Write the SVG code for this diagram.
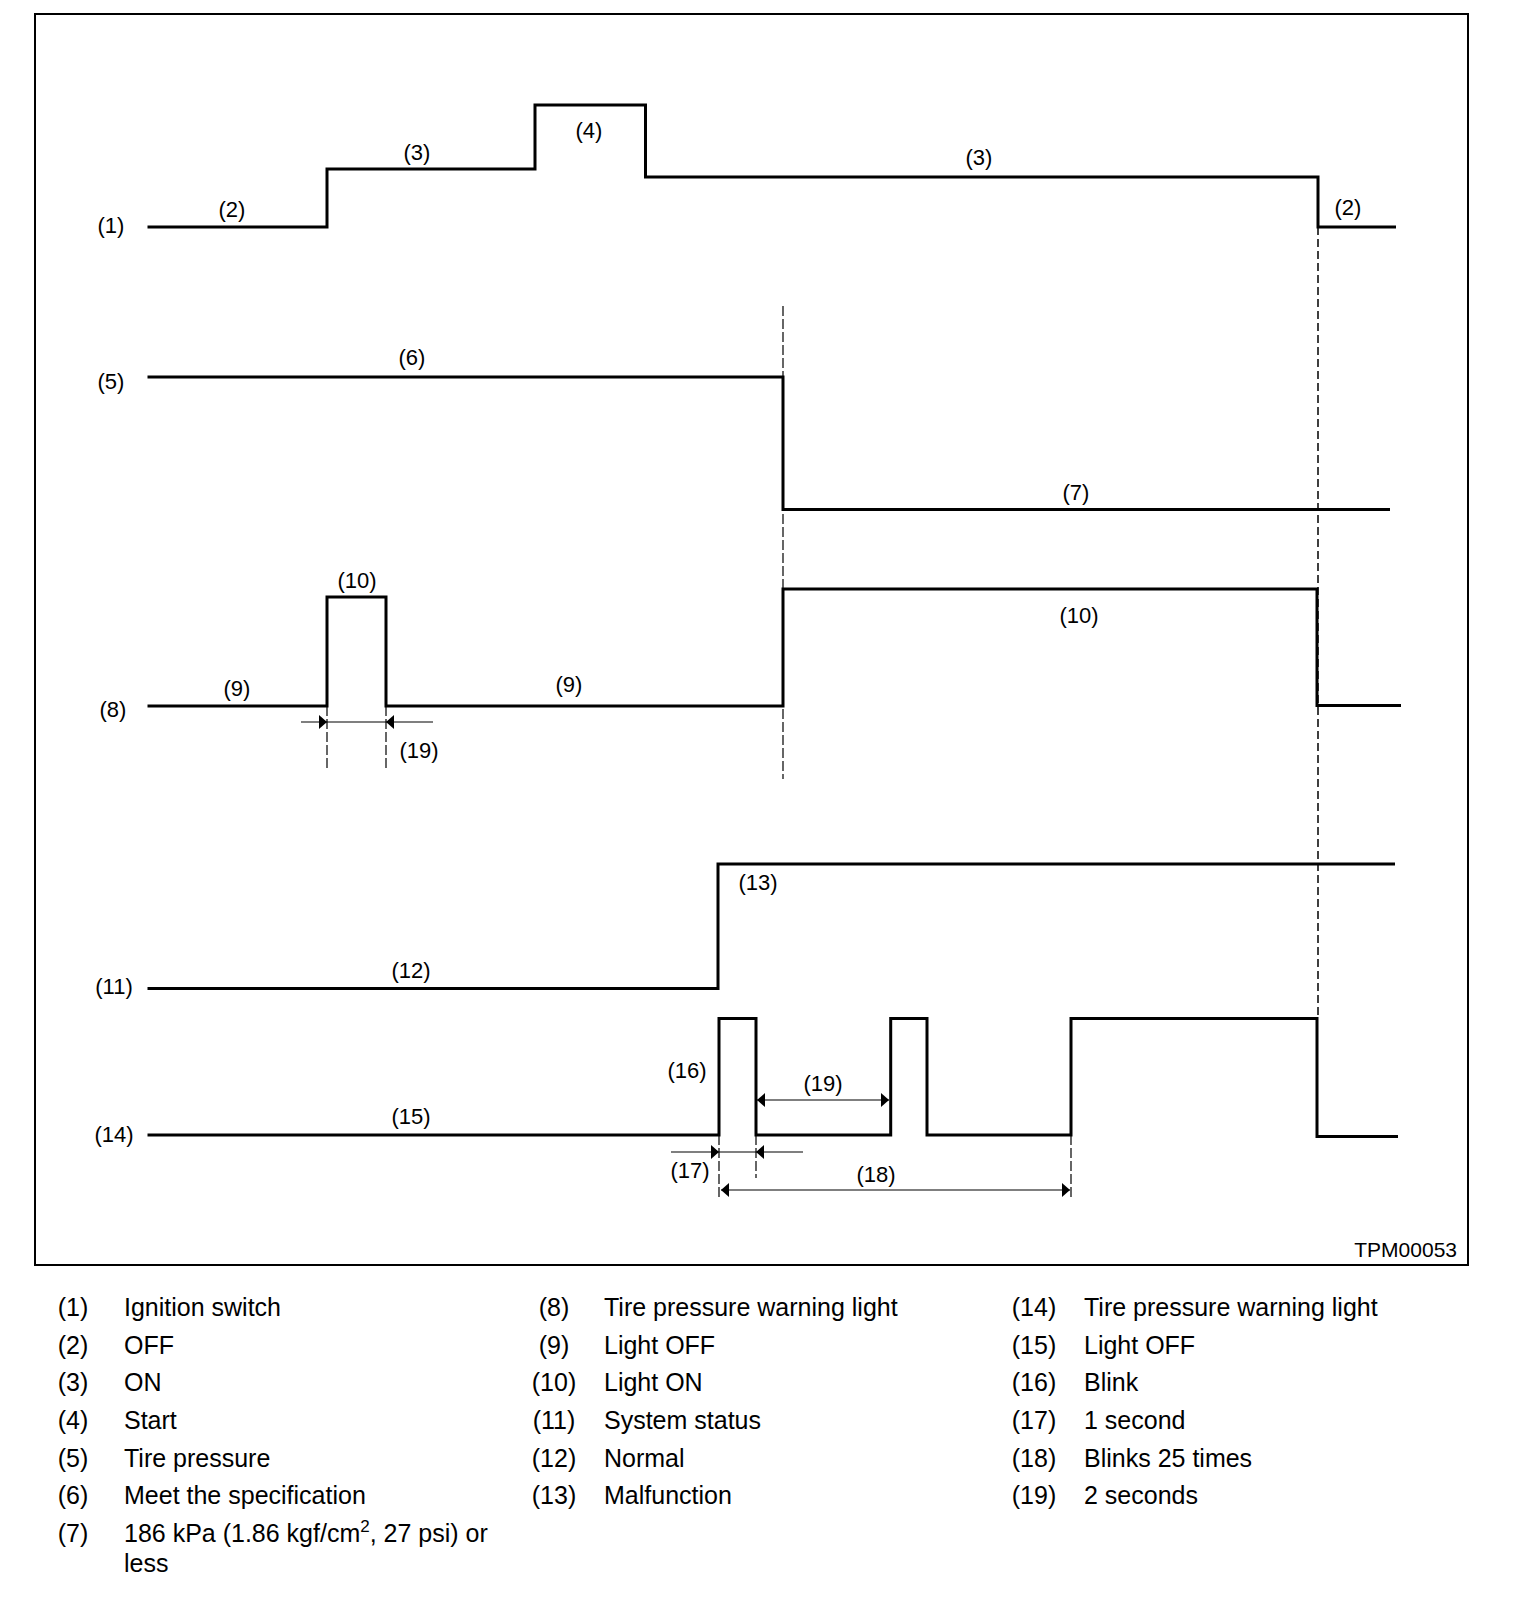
<svg xmlns="http://www.w3.org/2000/svg" xmlns:xlink="http://www.w3.org/1999/xlink" width="1536" height="1608" viewBox="0 0 1536 1608">
<style>
.sig{fill:none;stroke:#000;stroke-width:3;stroke-linejoin:miter;stroke-linecap:butt}
.frame{fill:none;stroke:#000;stroke-width:2}
.dash{fill:none;stroke:#000;stroke-width:1.5;stroke-dasharray:8 4}
.dash2{fill:none;stroke:#000;stroke-width:1.2;stroke-dasharray:10 3}
.dim{fill:none;stroke:#000;stroke-width:1.2}
.lbl{font-family:"Liberation Sans",Arial,sans-serif;font-size:22px;text-anchor:middle;fill:#000}
.leg{font-family:"Liberation Sans",Arial,sans-serif;font-size:25px;fill:#000}
.num{text-anchor:middle}
</style>
<defs>
<path id="ah" d="M0,0 L-8,-7 L-8,7 Z" fill="#000"/>
</defs>
<rect class="frame" x="35" y="14" width="1433" height="1251"/>

<g id="connectors">
<path class="dash" d="M1318,227 V1018"/>
<path class="dash2" d="M783,306 V779"/>
<path class="dash2" d="M327,706 V768"/>
<path class="dash2" d="M386,706 V768"/>
<path class="dash2" d="M719,1135 V1198"/>
<path class="dash2" d="M756,1135 V1178"/>
<path class="dash2" d="M1071,1135 V1198"/>
<path class="dim" d="M301,722 H433"/>
<use xlink:href="#ah" transform="translate(327,722)"/>
<use xlink:href="#ah" transform="translate(386,722) rotate(180)"/>
<path class="dim" d="M757,1100 H889"/>
<use xlink:href="#ah" transform="translate(757,1100) rotate(180)"/>
<use xlink:href="#ah" transform="translate(889,1100)"/>
<path class="dim" d="M671,1152 H803"/>
<use xlink:href="#ah" transform="translate(719,1152)"/>
<use xlink:href="#ah" transform="translate(756,1152) rotate(180)"/>
<path class="dim" d="M721,1190 H1070"/>
<use xlink:href="#ah" transform="translate(721,1190) rotate(180)"/>
<use xlink:href="#ah" transform="translate(1070,1190)"/>
</g>

<g id="ignition">
<path class="sig" d="M147.5,227 H327 V169 H535 V105 H645.5 V177 H1318 V227 H1396"/>
<text class="lbl" x="111" y="233">(1)</text>
<text class="lbl" x="232" y="217">(2)</text>
<text class="lbl" x="417" y="160">(3)</text>
<text class="lbl" x="589" y="138">(4)</text>
<text class="lbl" x="979" y="165">(3)</text>
<text class="lbl" x="1348" y="215">(2)</text>
</g>

<g id="tire-pressure">
<path class="sig" d="M147.5,377 H783 V509.5 H1390"/>
<text class="lbl" x="111" y="389">(5)</text>
<text class="lbl" x="412" y="365">(6)</text>
<text class="lbl" x="1076" y="500">(7)</text>
</g>

<g id="warning-light-8">
<path class="sig" d="M147.5,706 H327 V597 H386 V706 H783 V589 H1317 V705.5 H1401"/>
<text class="lbl" x="113" y="717">(8)</text>
<text class="lbl" x="237" y="696">(9)</text>
<text class="lbl" x="357" y="588">(10)</text>
<text class="lbl" x="569" y="692">(9)</text>
<text class="lbl" x="1079" y="623">(10)</text>
<text class="lbl" x="419" y="758">(19)</text>
</g>

<g id="system-status">
<path class="sig" d="M147.5,988.5 H718 V864 H1395"/>
<text class="lbl" x="114" y="994">(11)</text>
<text class="lbl" x="411" y="978">(12)</text>
<text class="lbl" x="758" y="890">(13)</text>
</g>

<g id="warning-light-14">
<path class="sig" d="M147.5,1135 H719 V1018.5 H756 V1135 H890.7 V1018.5 H927 V1135 H1071 V1018.5 H1317 V1136.5 H1398"/>
<text class="lbl" x="114" y="1142">(14)</text>
<text class="lbl" x="411" y="1124">(15)</text>
<text class="lbl" x="687" y="1078">(16)</text>
<text class="lbl" x="823" y="1091">(19)</text>
<text class="lbl" x="690" y="1178">(17)</text>
<text class="lbl" x="876" y="1182">(18)</text>
</g>

<text class="lbl" x="1457" y="1257" style="text-anchor:end;font-size:21px">TPM00053</text>

<g id="legend">
<text class="leg num" x="73" y="1316">(1)</text><text class="leg" x="124" y="1316">Ignition switch</text>
<text class="leg num" x="73" y="1354">(2)</text><text class="leg" x="124" y="1354">OFF</text>
<text class="leg num" x="73" y="1391">(3)</text><text class="leg" x="124" y="1391">ON</text>
<text class="leg num" x="73" y="1429">(4)</text><text class="leg" x="124" y="1429">Start</text>
<text class="leg num" x="73" y="1467">(5)</text><text class="leg" x="124" y="1467">Tire pressure</text>
<text class="leg num" x="73" y="1504">(6)</text><text class="leg" x="124" y="1504">Meet the specification</text>
<text class="leg num" x="73" y="1542">(7)</text><text class="leg" x="124" y="1542">186 kPa (1.86 kgf/cm<tspan font-size="17" dy="-10">2</tspan><tspan dy="10">, 27 psi) or</tspan></text>
<text class="leg" x="124" y="1572">less</text>

<text class="leg num" x="554" y="1316">(8)</text><text class="leg" x="604" y="1316">Tire pressure warning light</text>
<text class="leg num" x="554" y="1354">(9)</text><text class="leg" x="604" y="1354">Light OFF</text>
<text class="leg num" x="554" y="1391">(10)</text><text class="leg" x="604" y="1391">Light ON</text>
<text class="leg num" x="554" y="1429">(11)</text><text class="leg" x="604" y="1429">System status</text>
<text class="leg num" x="554" y="1467">(12)</text><text class="leg" x="604" y="1467">Normal</text>
<text class="leg num" x="554" y="1504">(13)</text><text class="leg" x="604" y="1504">Malfunction</text>

<text class="leg num" x="1034" y="1316">(14)</text><text class="leg" x="1084" y="1316">Tire pressure warning light</text>
<text class="leg num" x="1034" y="1354">(15)</text><text class="leg" x="1084" y="1354">Light OFF</text>
<text class="leg num" x="1034" y="1391">(16)</text><text class="leg" x="1084" y="1391">Blink</text>
<text class="leg num" x="1034" y="1429">(17)</text><text class="leg" x="1084" y="1429">1 second</text>
<text class="leg num" x="1034" y="1467">(18)</text><text class="leg" x="1084" y="1467">Blinks 25 times</text>
<text class="leg num" x="1034" y="1504">(19)</text><text class="leg" x="1084" y="1504">2 seconds</text>
</g>
</svg>
